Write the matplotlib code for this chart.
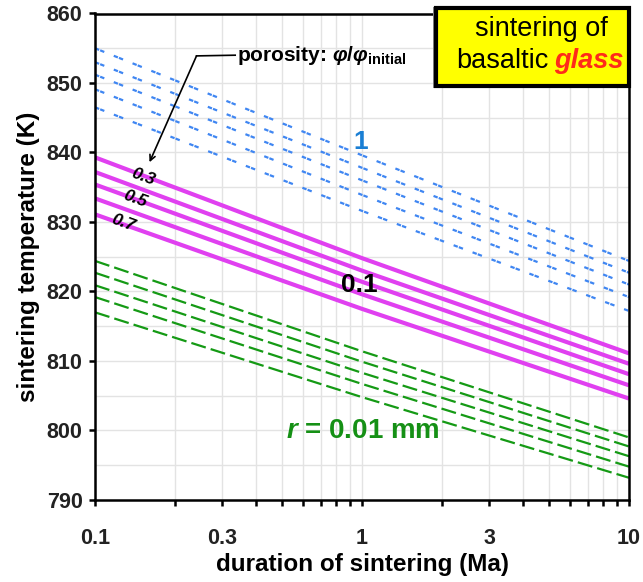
import matplotlib
matplotlib.use('Agg')
import matplotlib.pyplot as plt
import numpy as np
from matplotlib.patches import Rectangle

plt.rcParams['font.family'] = ['Liberation Sans', 'DejaVu Sans']
plt.rcParams['mathtext.fontset'] = 'custom'
plt.rcParams['mathtext.rm'] = 'Liberation Sans:bold'
plt.rcParams['mathtext.it'] = 'Liberation Sans:bold:italic'
plt.rcParams['mathtext.bf'] = 'Liberation Sans:bold'

# duration (Ma) where temperatures were read
duration = [0.1, 1, 10]

# sintering temperature (K), one row per porosity curve
glass_1mm = [
    [855.0, 839.6, 824.4],
    [853.0, 837.8, 822.7],
    [851.2, 836.0, 821.0],
    [849.1, 833.9, 819.2],
    [846.5, 831.6, 817.2],
]
glass_01mm = [
    [839.3, 824.8, 811.1],
    [837.2, 823.0, 809.6],
    [835.4, 821.4, 808.1],
    [833.4, 819.6, 806.5],
    [831.1, 817.5, 804.6],
]
glass_001mm = [
    [824.4, 811.4, 799.0],
    [822.7, 809.9, 797.7],
    [820.9, 808.3, 796.3],
    [819.2, 806.7, 794.8],
    [817.0, 804.8, 793.2],
]
porosity_labels = ['0.3', '0.5', '0.7']

fig = plt.figure(figsize=(6.43, 5.82), dpi=100)
ax = fig.add_axes([95 / 643, 1 - 500 / 582, (629 - 95) / 643, (500 - 13.5) / 582])

for row in glass_1mm:
    ax.plot(duration, row, color='#3f86f2', lw=1.6, linestyle=(0, (2.0, 0.5, 2.0, 4.6)))
for row in glass_01mm:
    ax.plot(duration, row, color='#e040f0', lw=3.0, solid_capstyle='butt')
for row in glass_001mm:
    ax.plot(duration, row, color='#159a15', lw=1.6, linestyle=(0, (6.8, 2.3)))

ax.set_xscale('log')
ax.set_xlim(0.1, 10)
ax.set_ylim(790, 860)
ax.set_xticks([0.1, 0.3, 1, 3, 10])
ax.set_xticklabels(['0.1', '0.3', '1', '3', '10'])
minor = [0.2, 0.4, 0.5, 0.6, 0.7, 0.8, 0.9, 2, 4, 5, 6, 7, 8, 9]
ax.set_xticks(minor, minor=True)
ax.xaxis.set_minor_formatter(plt.NullFormatter())
ax.set_yticks(np.arange(790, 861, 10))
ax.set_yticks(np.arange(795, 860, 10), minor=True)
ax.grid(True, which='both', color='#e3e3e3', lw=1.0)
ax.set_axisbelow(True)
for s in ax.spines.values():
    s.set_linewidth(1.8)
ax.tick_params(axis='x', which='both', direction='out', length=4, width=1.8, labelsize=15.5, pad=16)
ax.tick_params(axis='y', which='major', direction='out', length=4, width=1.8, labelsize=15.5, pad=5)
ax.tick_params(axis='y', which='minor', length=0)
for lab in ax.get_xticklabels() + ax.get_yticklabels():
    lab.set_fontweight('bold')
    lab.set_color('#222222')

ax.set_xlabel('duration of sintering (Ma)', fontsize=17.5, fontweight='bold', labelpad=3)
ax.set_ylabel('sintering temperature (K)', fontsize=17.5, fontweight='bold', labelpad=5)

# curve labels
ax.text(0.99, 841.5, '1', color='#1a7fd4', fontsize=19, fontweight='bold', ha='center', va='center')
ax.text(0.98, 821.0, '0.1', color='black', fontsize=19, fontweight='bold', ha='center', va='center')
ax.text(0.52, 799.9, r'$r$ = 0.01 mm', color='#159015', fontsize=20, fontweight='bold',
        ha='left', va='center')
for lab, xx, yy in zip(porosity_labels, [0.151, 0.141, 0.127], [836.5, 833.35, 829.9]):
    ax.text(xx, yy, lab, fontsize=12.5, fontweight='bold', style='italic', rotation=-20,
            ha='center', va='center')

ax.text(0.34, 854.0, r'porosity: $φ/φ_{\mathrm{initial}}$', fontsize=15, fontweight='bold',
        ha='left', va='center')
ax.plot([0.335, 0.24], [854.0, 853.9], color='black', lw=1.2)
ax.annotate('', xy=(0.16, 838.6), xytext=(0.24, 853.9),
            arrowprops=dict(arrowstyle='->', color='black', lw=1.2, shrinkA=0, shrinkB=0))

# title box
fig.patches.append(Rectangle((433 / 643, 1 - 88 / 582), 197 / 643, 81 / 582, transform=fig.transFigure,
                             facecolor='#888888', edgecolor='none', zorder=5))
fig.patches.append(Rectangle((436 / 643, 1 - 86 / 582), 193 / 643, 78 / 582, transform=fig.transFigure,
                             facecolor='#ffff00', edgecolor='black', lw=3, zorder=6))
fig.text(541 / 643, 1 - 36 / 582, 'sintering of', fontsize=19.5, ha='center', va='baseline', zorder=7)
fig.text(548 / 643, 1 - 68 / 582, 'basaltic', fontsize=19.5, ha='right', va='baseline', zorder=7)
fig.text(554 / 643, 1 - 68 / 582, 'glass', fontsize=19.5, color='#ff2a1a', fontweight='bold',
         style='italic', ha='left', va='baseline', zorder=7)

fig.savefig('out.png', dpi=100)
